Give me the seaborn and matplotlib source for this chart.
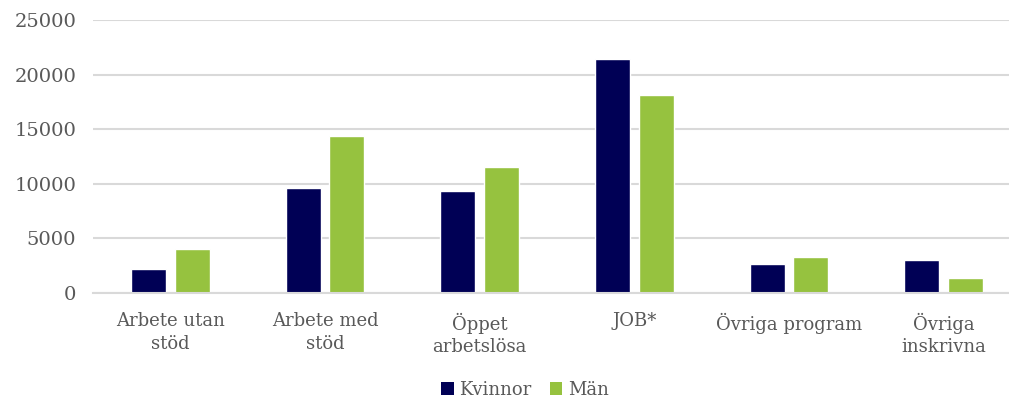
import matplotlib
matplotlib.use("Agg")
import matplotlib.pyplot as plt
import seaborn as sns
import pandas as pd
from matplotlib.patches import Patch

categories = ["Arbete utan\nstöd", "Arbete med\nstöd", "Öppet\narbetslösa", "JOB*", "Övriga program", "Övriga\ninskrivna"]
kvinnor = [2200, 9640, 9310, 21460, 2690, 3050]
man = [4000, 14380, 11570, 18100, 3330, 1400]
series = ["Kvinnor", "Män"]
yticks = [0, 5000, 10000, 15000, 20000, 25000]

df = pd.DataFrame({
    "kategori": categories * 2,
    "serie": [series[0]] * len(categories) + [series[1]] * len(categories),
    "antal": kvinnor + man,
})

sns.set_theme(style="white")
plt.rcParams["font.family"] = ["DejaVu Serif"]
text_color = "#595959"
colors = {"Kvinnor": "#000055", "Män": "#96C23F"}

fig = plt.figure(figsize=(10.09, 4.01), dpi=100)
ax = fig.add_axes([93 / 1009, 108 / 401, (1021 - 93) / 1009, 273 / 401])
sns.barplot(data=df, x="kategori", y="antal", hue="serie", palette=colors,
            width=0.566, gap=0.2, ax=ax, legend=False, saturation=1)
ax.set_ylim(0, 25000)
ax.set_xlim(-0.5, len(categories) - 0.5)
ax.set_yticks(yticks)
ax.set_yticklabels([str(v) for v in yticks])
ax.yaxis.grid(True, color="#d9d9d9", linewidth=1.5)
ax.set_axisbelow(True)
for s in ["top", "right", "left"]:
    ax.spines[s].set_visible(False)
ax.spines["bottom"].set_color("#d9d9d9")
ax.spines["bottom"].set_linewidth(1.5)
ax.tick_params(axis="both", length=0, colors=text_color)
ax.tick_params(axis="y", pad=12, labelsize=14)
ax.tick_params(axis="x", pad=14, labelsize=13)
for lbl in ax.get_xticklabels():
    lbl.set_linespacing(1.35)
ax.set_xlabel("")
ax.set_ylabel("")

handles = [Patch(facecolor=colors[s], edgecolor="none", label=s) for s in series]
fig.legend(handles=handles, loc="center", bbox_to_anchor=(525 / 1009, 1 - 390 / 401),
           ncol=2, frameon=False, fontsize=13, labelcolor=text_color,
           handlelength=0.7, handleheight=0.7, handletextpad=0.3, columnspacing=1.0)

fig.savefig("out.png", dpi=100)
